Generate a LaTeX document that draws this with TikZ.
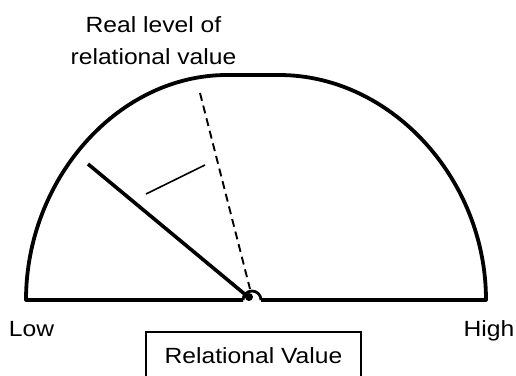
\documentclass[tikz,border=0pt]{standalone}
\usepackage{fontspec}
\setmainfont{Liberation Sans}[FakeStretch=1.12]
\begin{document}
\begin{tikzpicture}[x=1pt,y=-1pt,
  outline/.style={line width=3.8pt, line join=round},
  needle/.style={line width=3.6pt},
  realline/.style={line width=1.9pt, dash pattern=on 8pt off 5pt},
  tick/.style={line width=1.6pt},
  lbl/.style={font=\fontsize{22}{32}\selectfont, inner sep=0pt}]
\useasboundingbox (0,0) rectangle (516,375);
% named points
\coordinate (L) at (26,300);
\coordinate (TL) at (227,75);
\coordinate (TR) at (279,75);
\coordinate (R) at (486,300);
\coordinate (P1) at (243,300);
\coordinate (P2) at (261,300);
\coordinate (pivot) at (247,296);
\coordinate (tip) at (88,164);
\coordinate (dtop) at (200,93);
\coordinate (dbot) at (250,289);
\coordinate (t1) at (146,194);
\coordinate (t2) at (205,165);
% gauge outline
\draw[outline] (P1) -- (L)
  .. controls (26,179) and (118,75) .. (TL) -- (TR)
  .. controls (391,75) and (486,179) .. (R) -- (P2);
\draw[line width=2.8pt] (P1) arc[start angle=180, end angle=0, radius=9pt];
\fill (249,297) circle[radius=4pt];
% needle and real level
\draw[needle] (tip) -- (pivot);
\draw[realline] (dtop) -- (dbot);
\draw[tick] (t1) -- (t2);
% labels
\node[lbl, align=center, anchor=base] (real) at (153.5,64) {Real level of\\relational value};
\node[lbl, anchor=base] (low) at (31.5,336) {Low};
\node[lbl, anchor=base] (high) at (489,336) {High};
\node[lbl, anchor=base] (rv) at (253.5,363) {Relational Value};
\draw[line width=1.5pt] (146,332) rectangle (361,390);
\end{tikzpicture}
\end{document}
